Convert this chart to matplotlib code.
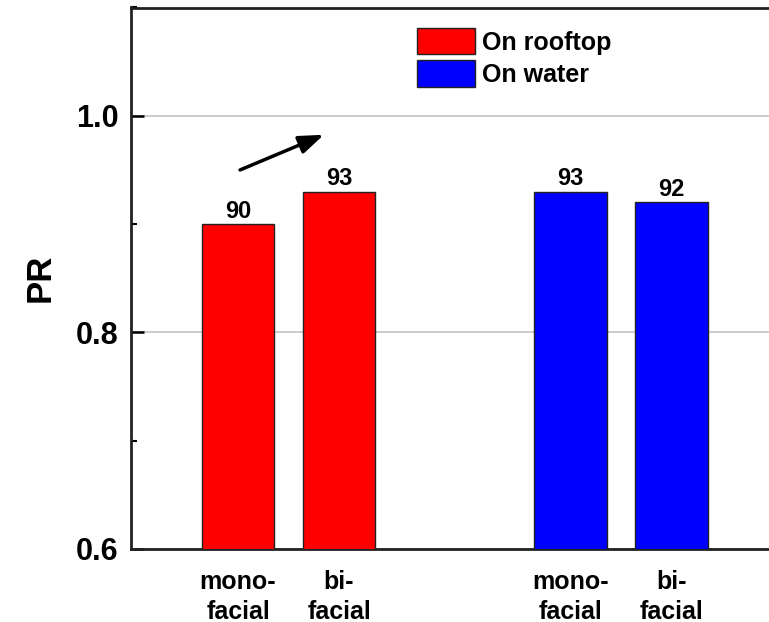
import matplotlib.pyplot as plt
from matplotlib.patches import Patch
from matplotlib.ticker import MultipleLocator

plt.rcParams['font.family'] = ['Liberation Sans', 'DejaVu Sans']
plt.rcParams['font.weight'] = 'bold'

# data
groups = ["On rooftop", "On water"]
group_colors = ["#ff0000", "#0000ff"]
tick_labels = ["mono-\nfacial", "bi-\nfacial", "mono-\nfacial", "bi-\nfacial"]
pr_rooftop = [0.90, 0.93]
pr_water = [0.93, 0.92]
pr_labels_rooftop = ["90", "93"]
pr_labels_water = ["93", "92"]

fig = plt.figure(figsize=(7.69, 6.22), dpi=100)
ax = fig.add_axes([131/769, 73/622, (775-131)/769, (549-7.5)/622])

x_roof = [1, 2]
x_water = [4.29, 5.29]
w = 0.72

b1 = ax.bar(x_roof, pr_rooftop, w, color=group_colors[0], edgecolor="#222222", linewidth=1, zorder=3)
b2 = ax.bar(x_water, pr_water, w, color=group_colors[1], edgecolor="#222222", linewidth=1, zorder=3)
ax.bar_label(b1, labels=pr_labels_rooftop, padding=1, fontsize=17, fontweight='bold')
ax.bar_label(b2, labels=pr_labels_water, padding=1, fontsize=17, fontweight='bold')

# trend arrow
ax.annotate("", xy=(1.85, 0.9825), xytext=(1.02, 0.95),
            arrowprops=dict(arrowstyle="-|>,head_length=1.5,head_width=0.55", lw=2.5, color="black",
                            shrinkA=0, shrinkB=0))

ax.set_xlim(-0.06, 6.317)
ax.set_ylim(0.6, 1.1)
ax.yaxis.set_major_locator(MultipleLocator(0.2))
ax.yaxis.set_minor_locator(MultipleLocator(0.1))
ax.grid(axis='y', which='major', color='#c8c8c8', lw=1.3, zorder=0)

ax.set_xticks(x_roof + x_water)
ax.set_xticklabels(tick_labels, fontsize=18, fontweight='bold', linespacing=1.3)
ax.tick_params(axis='x', length=0, pad=15)
ax.tick_params(axis='y', which='major', direction='in', length=9, width=1.8, labelsize=22, pad=9)
ax.tick_params(axis='y', which='minor', direction='in', length=4, width=1.5)
for lab in ax.get_yticklabels():
    lab.set_fontweight('bold')

for s in ['left', 'bottom', 'top']:
    ax.spines[s].set_linewidth(2)
    ax.spines[s].set_color('#222222')
ax.spines['right'].set_visible(False)

ax.set_ylabel("PR", fontsize=25, fontweight='bold', labelpad=14)

handles = [Patch(facecolor=c, edgecolor="#222222", linewidth=1) for c in group_colors]
fig.legend(handles, groups, loc='upper left', bbox_to_anchor=(417/769, 1 - 28/622),
           frameon=False, prop={'weight': 'bold', 'size': 18},
           handlelength=2.3, handleheight=1.25, labelspacing=0.22, handletextpad=0.32, borderpad=0,
           borderaxespad=0)

fig.savefig("out.png", dpi=100)
